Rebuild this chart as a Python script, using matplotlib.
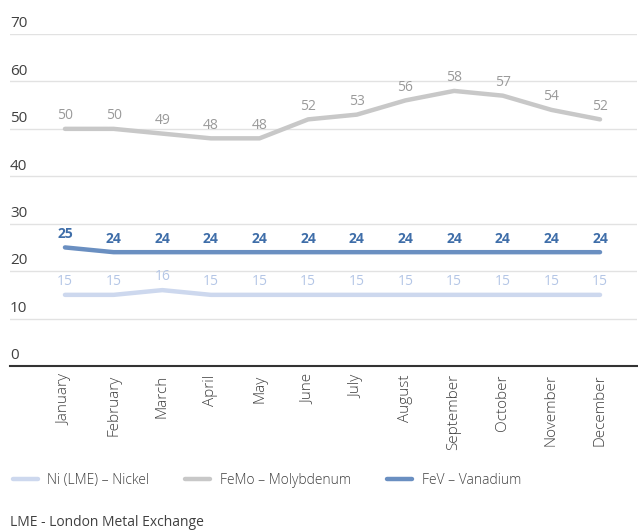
import matplotlib
matplotlib.use("Agg")
import matplotlib.pyplot as plt
from matplotlib.transforms import blended_transform_factory, offset_copy

plt.rcParams['font.family'] = ['Open Sans', 'DejaVu Sans']

months = ["January", "February", "March", "April", "May", "June", "July",
          "August", "September", "October", "November", "December"]
nickel = [15, 15, 16, 15, 15, 15, 15, 15, 15, 15, 15, 15]
molybdenum = [50, 50, 49, 48, 48, 52, 53, 56, 58, 57, 54, 52]
vanadium = [25, 24, 24, 24, 24, 24, 24, 24, 24, 24, 24, 24]
y_ticks = [0, 10, 20, 30, 40, 50, 60, 70]

series = [
    ("Ni (LME) – Nickel", nickel, "#cdd8ee", "#b4c6e6", "normal"),
    ("FeMo – Molybdenum", molybdenum, "#c8c8c8", "#9a9a9a", "normal"),
    ("FeV – Vanadium", vanadium, "#6a8fc1", "#3f6ea9", "bold"),
]

fig = plt.figure(figsize=(6.38, 5.31), dpi=100)
ax = fig.add_axes([10 / 638, 1 - 366 / 531, 627 / 638, (366 - 34) / 531])

x = list(range(len(months)))
handles = []
for name, vals, color, lab_color, weight in series:
    h, = ax.plot(x, vals, color=color, lw=3.2, solid_capstyle="round",
                 solid_joinstyle="round", label=name)
    handles.append(h)
    for xi, v in zip(x, vals):
        ax.annotate(str(v), (xi, v), xytext=(0, 9.5), textcoords="offset points",
                    ha="center", va="center", fontsize=10, color=lab_color,
                    fontweight=weight)

ax.set_ylim(0, 70)
ax.set_xlim(-1.13, 11.76)
ax.set_yticks(y_ticks)
ax.set_yticklabels([])
ax.tick_params(axis="y", length=0)
ax.grid(axis="y", color="#e2e2e2", lw=1)
ax.set_axisbelow(True)

# y-axis values sit just above their gridlines at the left edge
trans = offset_copy(blended_transform_factory(ax.transAxes, ax.transData),
                    fig=fig, x=0, y=2, units="points")
for t in y_ticks:
    ax.text(0.0, t, str(t), transform=trans, ha="left", va="bottom",
            fontsize=11, color="#404040")

ax.set_xticks(x)
ax.set_xticklabels(months, rotation=90, fontsize=11, color="#404040",
                   fontweight="light")
ax.tick_params(axis="x", length=0, pad=6)

for s in ["top", "right", "left"]:
    ax.spines[s].set_visible(False)
ax.spines["bottom"].set_color("#333333")
ax.spines["bottom"].set_linewidth(1.5)

leg = fig.legend(handles=handles, loc="center left",
                 bbox_to_anchor=(0.0, 1 - 480 / 531), ncol=3, frameon=False,
                 prop={"size": 10, "weight": "light"}, handlelength=1.8,
                 handletextpad=0.7, columnspacing=2.6, labelcolor="#404040")

fig.text(10 / 638, 1 - 522 / 531, "LME - London Metal Exchange", ha="left",
         va="center", fontsize=10, color="#404040")

fig.savefig("out.png", dpi=100)
